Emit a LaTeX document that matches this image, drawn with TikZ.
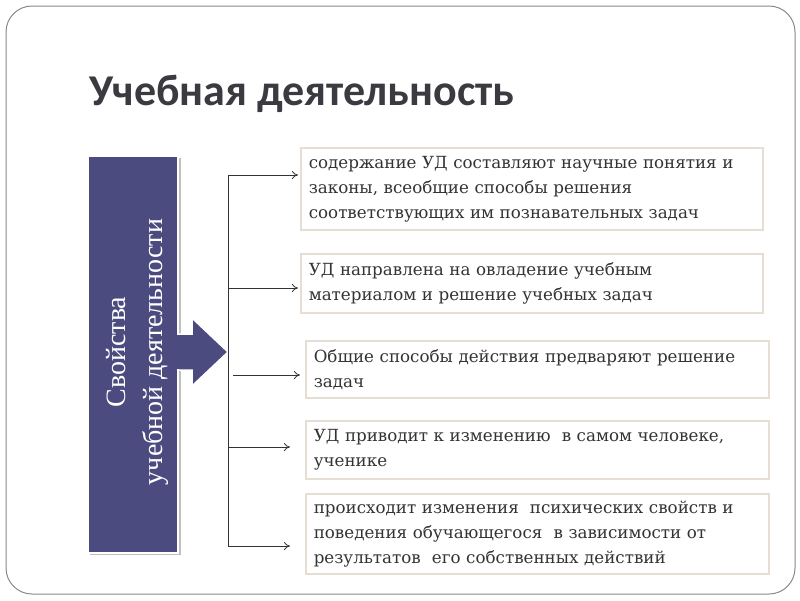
\documentclass[tikz,border=0pt]{standalone}
\usepackage{fontspec}
\setmainfont{DejaVu Serif}
\newfontfamily\titlefont{Carlito}
\newfontfamily\boxserif{Liberation Serif}
\usetikzlibrary{arrows.meta,shadows}
\definecolor{frame}{HTML}{8A8A8A}
\definecolor{slate}{HTML}{4C4B80}
\definecolor{boxedge}{HTML}{E6DDD4}
\definecolor{txt}{HTML}{333333}
\definecolor{ttl}{HTML}{3A3A40}
\tikzset{
  propbox/.style={draw=boxedge, line width=1.6pt, fill=white, rectangle,
    anchor=north west, text width=#1, align=left, inner xsep=8pt,
    text=txt, font=\fontsize{16.7}{25}\selectfont,
    drop shadow={shadow xshift=1.5pt, shadow yshift=-1.5pt, fill=black!12}},
  link/.style={draw=black!80, line width=0.8pt},
  linkarrow/.style={link, -{To[length=6pt,width=8pt]}}
}
\begin{document}
\begin{tikzpicture}[x=1pt,y=-1pt]
\useasboundingbox (0,0) rectangle (800,600);
\fill[white] (0,0) rectangle (800,600);
% outer frame
\draw[frame, line width=1pt, rounded corners=26pt] (6,6) rectangle (795,594);
% title
\node[anchor=base west, inner sep=0pt, text=ttl, font=\titlefont\bfseries\fontsize{44}{48}\selectfont] (title) at (89,105) {Учебная деятельность};
% left slate box
\fill[black!25] (90,158) rectangle (181,555);
\node[draw=white, line width=2pt, fill=slate, minimum width=90pt, minimum height=397pt, anchor=north west, inner sep=0pt] (side) at (87,155) {};
% arrow
\draw[white, line width=1.5pt, fill=slate] (side.east |- 0,334) -- (192,334) -- (192,318) -- (228,352) -- (192,386) -- (192,370) -- (side.east |- 0,370);
\fill[slate] (174,335) rectangle (180,369);
\node[rotate=90, align=center, text=white, font=\boxserif\fontsize{28}{37}\selectfont] (sidetext) at (137,352) {Свойства\\учебной деятельности};
% property boxes
\node[propbox=446pt, minimum height=82pt] (b1) at (300,147) {содержание УД составляют научные понятия и\\законы, всеобщие способы решения\\соответствующих им познавательных задач};
\node[propbox=446pt, minimum height=59pt] (b2) at (300,253) {УД направлена на овладение учебным\\материалом и решение учебных задач};
\node[propbox=447pt, minimum height=57pt] (b3) at (305,340) {Общие способы действия предваряют решение\\задач};
\node[propbox=447pt, minimum height=58pt] (b4) at (305,420) {УД приводит к изменению~ в самом человеке,\\ученике};
\node[propbox=447pt, minimum height=80pt] (b5) at (305,493) {происходит изменения~ психических свойств и\\поведения обучающегося~ в зависимости от\\результатов~ его собственных действий};
% spine
\coordinate (s1) at (228,175);
\coordinate (s2) at (228,288);
\coordinate (s3) at (228,375);
\coordinate (s4) at (228,447);
\coordinate (s5) at (228,546);
\draw[link] (s1) -- (s5);
\draw[linkarrow, shorten >=2pt] (s1) -- (s1 -| b1.west);
\draw[linkarrow, shorten >=2pt] (s2) -- (s2 -| b2.west);
\draw[linkarrow, shorten <=5pt, shorten >=5pt] (s3) -- (s3 -| b3.west);
\draw[linkarrow, shorten >=15pt] (s4) -- (s4 -| b4.west);
\draw[linkarrow, shorten >=15pt] (s5) -- (s5 -| b5.west);
\end{tikzpicture}
\end{document}
